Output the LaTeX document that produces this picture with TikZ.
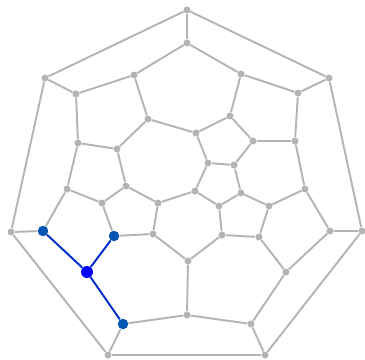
\documentclass[tikz,border=0pt]{standalone}
\usepackage{tikz}
\definecolor{kantgrau}{RGB}{180,180,180}
\definecolor{pfadblau}{RGB}{0,45,205}
\definecolor{knotblau}{RGB}{0,85,180}
\tikzset{
  vtx/.style={circle, fill=kantgrau, inner sep=0pt, minimum size=0.14cm},
  vtxsel/.style={circle, fill=knotblau, inner sep=0pt, minimum size=0.21cm},
  vtxroot/.style={circle, fill=blue, inner sep=0pt, minimum size=0.24cm},
  edge/.style={draw=kantgrau, line width=1.1pt},
  edgesel/.style={draw=pfadblau, line width=1.1pt}
}
\begin{document}
\begin{tikzpicture}[x=0.02cm, y=-0.02cm]
  \useasboundingbox (0,0) rectangle (365,359);
  % Aeusserer Ring
  \node[vtx] (n1) at (187,10) {};
  \node[vtx] (n2) at (329,78) {};
  \node[vtx] (n3) at (362,231) {};
  \node[vtx] (n4) at (265,355) {};
  \node[vtx] (n5) at (108,355) {};
  \node[vtx] (n6) at (11,232) {};
  \node[vtx] (n7) at (45,78) {};
  % Zweiter Ring
  \node[vtx] (n8) at (187,43) {};
  \node[vtx] (n9) at (241,74) {};
  \node[vtx] (n10) at (298,93) {};
  \node[vtx] (n11) at (295,141) {};
  \node[vtx] (n12) at (305,189) {};
  \node[vtx] (n13) at (330,231) {};
  \node[vtx] (n14) at (286,272) {};
  \node[vtx] (n15) at (251,324) {};
  \node[vtx] (n16) at (187,315) {};
  \node[vtx] (n20) at (67,189) {};
  \node[vtx] (n21) at (78,143) {};
  \node[vtx] (n22) at (76,94) {};
  \node[vtx] (n23) at (134,75) {};
  % Innere Knoten
  \node[vtx] (n24) at (148,119) {};
  \node[vtx] (n25) at (117,149) {};
  \node[vtx] (n26) at (126,186) {};
  \node[vtx] (n27) at (102,203) {};
  \node[vtx] (n29) at (153,234) {};
  \node[vtx] (n30) at (158,203) {};
  \node[vtx] (n31) at (195,191) {};
  \node[vtx] (n32) at (208,163) {};
  \node[vtx] (n33) at (196,133) {};
  \node[vtx] (n34) at (230,116) {};
  \node[vtx] (n35) at (253,141) {};
  \node[vtx] (n36) at (234,165) {};
  \node[vtx] (n37) at (241,193) {};
  \node[vtx] (n38) at (219,206) {};
  \node[vtx] (n39) at (269,206) {};
  \node[vtx] (n40) at (259,237) {};
  \node[vtx] (n41) at (222,235) {};
  \node[vtx] (n42) at (188,261) {};
  % Markierter Stern
  \node[vtxsel] (n17) at (123,324) {};
  \node[vtxroot] (n18) at (87,272) {};
  \node[vtxsel] (n19) at (43,231) {};
  \node[vtxsel] (n28) at (114,236) {};

  % Kanten
  \foreach \a/\b in {1/2, 2/3, 3/4, 4/5, 5/6, 6/7, 7/1,
      1/8, 2/10, 3/13, 4/15, 5/17, 6/19, 7/22,
      8/23, 8/9, 9/10, 9/34, 10/11, 11/35, 11/12, 12/39, 12/13,
      13/14, 14/40, 14/15, 15/16, 16/42, 16/17,
      19/20, 20/21, 20/27, 21/22, 21/25, 22/23, 23/24, 24/33, 24/25,
      25/26, 26/27, 26/30, 27/28, 28/29, 29/30, 29/42, 30/31, 31/32,
      31/38, 32/33, 32/36, 33/34, 34/35, 35/36, 36/37, 37/38, 37/39,
      38/41, 39/40, 40/41, 41/42}
    \draw[edge] (n\a) -- (n\b);
  \foreach \b in {17, 19, 28}
    \draw[edgesel] (n18) -- (n\b);
\end{tikzpicture}
\end{document}
